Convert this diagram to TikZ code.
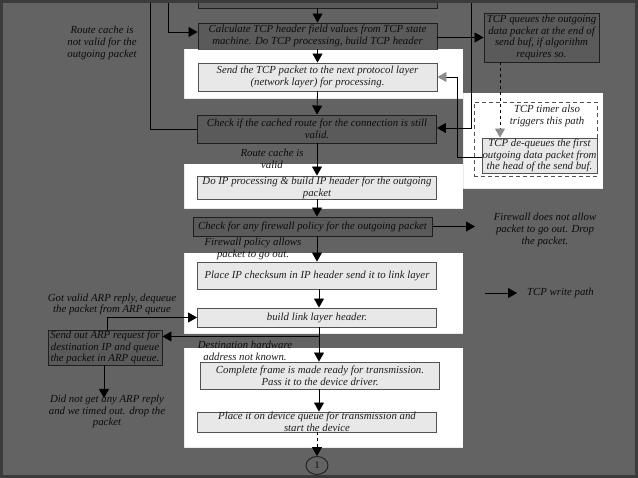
\documentclass[tikz,border=0pt]{standalone}
\usepackage{fontspec}
\setmainfont{Liberation Serif}
\usetikzlibrary{arrows.meta,shapes.geometric}
\begin{document}
\begin{tikzpicture}[x=1pt,y=-1pt,
  txt/.style={font=\itshape\fontsize{10.8}{11.8}\selectfont, text=black!88},
  box/.style={txt, draw=black!68, line width=0.9pt, fill=black!9, align=center,
    inner xsep=0pt, inner ysep=0pt, minimum width=239pt},
  sbox/.style={box, minimum width=115pt},
  lbl/.style={txt, align=center, inner sep=0pt},
  ln/.style={line width=0.8pt, black},
  arr/.style={ln, -{Triangle[width=10pt,length=9pt]}},
  garr/.style={ln, -{Triangle[width=10pt,length=9pt,color=black!45]}}
]
\useasboundingbox (0,0) rectangle (638,478);
\clip (0,0) rectangle (638,478);
\fill[white] (0,0) rectangle (638,478);

% free ends above the picture
\coordinate (tl1) at (150,-10);
\coordinate (tl2) at (168,-10);
\coordinate (tr) at (471,-10);
\coordinate (kx) at (500,0);
\coordinate (cx) at (457,0);
\coordinate (fwt) at (475,0);
\coordinate (ax) at (107,0);
\coordinate (br) at (319,336.5);
\coordinate (dntip) at (104,398);
\coordinate (lg1) at (485,293);

% main column
\node[box, minimum height=30pt] (A) at (317.5,-7) {};
\node[box, minimum height=26pt] (B) at (317.5,36) {Calculate TCP header field values from TCP state\\machine. Do TCP processing, build TCP header};
\node[box, minimum height=28pt] (C) at (317.5,77) {Send the TCP packet to the next protocol layer\\(network layer) for processing.};
\node[box, minimum height=28pt] (D) at (317,129) {Check if the cached route for the connection is still\\valid.};
\node[box, minimum height=23pt] (E) at (317,187.5) {Do IP processing \& build IP header for the outgoing\\packet};
\node[box, minimum height=19pt] (F) at (312.5,226.5) {Check for any firewall policy for the outgoing packet};
\node[box, minimum height=27pt] (G) at (317,275.5) {Place IP checksum in IP header send it to link layer};
\node[box, minimum height=19pt] (H) at (317,317.5) {build link layer header.};
\node[box, minimum height=27pt] (I) at (320,375.5) {Complete frame is made ready for transmission.\\Pass it to the device driver.};
\node[box, minimum height=20pt] (J) at (317,422) {Place it on device queue for transmission and\\start the device};
\node[draw=black!68, line width=0.9pt, ellipse, minimum width=22pt, minimum height=18pt, inner sep=0pt, txt, font=\fontsize{10}{11}\selectfont] (c1) at (317,465.5) {1};

% right side
\node[sbox, minimum height=49pt] (K) at (541.5,37.5) {TCP queues the outgoing\\data packet at the end of\\send buf, if algorithm\\requires so.};
\node[draw=black!68, line width=0.9pt, dash pattern=on 4pt off 3pt, minimum width=123pt, minimum height=74pt] (dbox) at (535.5,139) {};
\node[lbl] (timer) at (547,116) {TCP timer also\\triggers this path};
\node[sbox, minimum height=35pt] (deq) at (539.5,155.5) {TCP de-queues the first\\outgoing data packet from\\the head of the send buf.};
\node[lbl] (fw) at (545,230) {Firewall does not allow\\packet to go out. Drop\\the packet.};
\node[lbl, anchor=west] (lgt) at (527,293) {TCP write path};

% left side
\node[sbox, minimum width=114pt, minimum height=35pt] (arp) at (105,347.5) {Send out ARP request for\\destination IP and queue\\the packet in ARP queue.};
\node[lbl] (rcn) at (102,43) {Route cache is\\not valid for the\\outgoing packet};
\node[lbl] (rcv) at (272,158.5) {Route cache is\\valid};
\node[lbl] (fpa) at (253,249) {Firewall policy allows\\packet to go out.};
\node[lbl] (gva) at (112,304.5) {Got valid ARP reply, dequeue\\the packet from ARP queue};
\node[lbl] (dhw) at (245,350.5) {Destination hardware\\address not known.};
\node[lbl] (dng) at (107,411.5) {Did not get any ARP reply\\and we timed out. drop the\\packet};

% connectors, main column
\draw[arr] (A.south) -- (B.north);
\draw[arr] (B.south) -- (C.north);
\draw[arr] (C.south) -- (D.north);
\draw[arr] (D.south) -- (E.north);
\draw[arr] (E.south -| D.south) -- (D.south |- F.north);
\draw[arr] (F.south -| G.north) -- (G.north);
\draw[arr] ([xshift=2pt]G.south) -- ([xshift=2pt]H.north);
\draw[ln] ([xshift=2pt]H.south) -- (br);
\draw[arr] (br) -- (br -| arp.east);
\draw[arr] (br) -- (br |- I.north);
\draw[arr] ([xshift=-1pt]I.south) -- ([xshift=2pt]J.north);
\draw[arr, dashed] (J.south) -- (c1.north);

% loops and side paths
\draw[ln] (D.west) -| (tl1);
\draw[arr] (tl2) |- ([yshift=4pt]B.west);
\draw[arr] (tr) |- ([yshift=1pt]D.east);
\draw[arr] ([yshift=-1.5pt]B.east) -- ([yshift=-1.5pt]B.east -| K.west);
\draw[garr, dashed] (K.south -| kx) -- (deq.north -| kx);
\draw[garr] ([yshift=-1.5pt]deq.west) -- ([yshift=-1.5pt]deq.west -| cx) -- (C.east -| cx) -- (C.east);
\draw[arr] (F.east) -- (F.east -| fwt);
\draw[arr] (lg1) -- ([xshift=-10pt]lgt.west);
\draw[arr] (arp.north -| ax) |- (H.west);
\draw[arr] ([xshift=-1pt]arp.south) -- (dntip);

% dark overlay with highlighted windows
\fill[black, fill opacity=0.61, even odd rule] (0,0) rectangle (638,478)
  (184,49) rectangle (463,99)
  (463,93) rectangle (603,189)
  (184,164) rectangle (463,209)
  (184,253) rectangle (463,334)
  (184,348) rectangle (463,448);
\draw[line width=3pt, black!77] (1.5,1.5) rectangle (636.5,476.5);
\end{tikzpicture}
\end{document}
